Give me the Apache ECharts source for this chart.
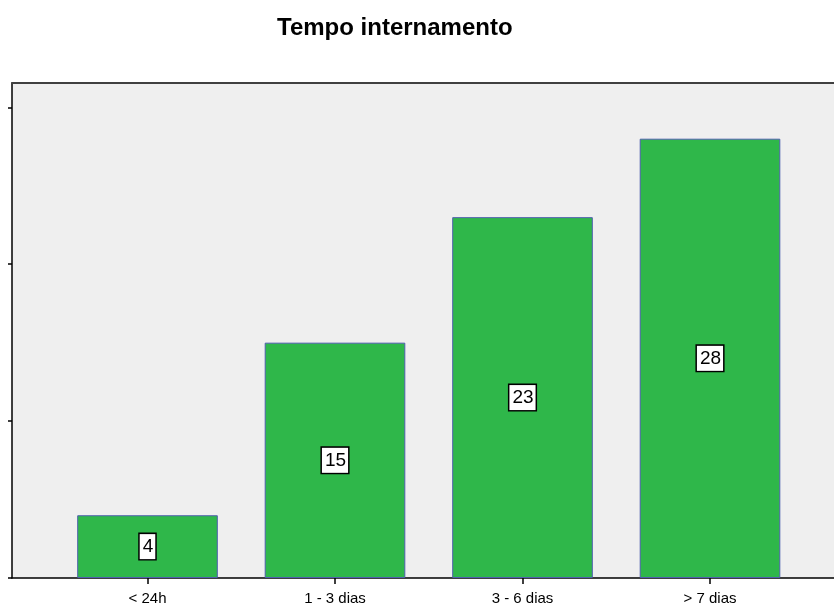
<!DOCTYPE html>
<html>
<head>
<meta charset="utf-8">
<script src="https://cdn.jsdelivr.net/npm/echarts@6/dist/echarts.min.js"></script>
<style>
  html, body { margin: 0; padding: 0; background: #ffffff; }
  #chart { width: 834px; height: 606px; }
</style>
</head>
<body>
<div id="chart"></div>
<script>
// Length-of-stay groups and patient counts
const categories = ['< 24h', '1 - 3 dias', '3 - 6 dias', '> 7 dias'];
const counts = [4, 15, 23, 28];
const yTicks = [0, 10, 20, 30];
const yMax = 31.55;

const font = '"Liberation Sans", Arial, sans-serif';
const chart = echarts.init(document.getElementById('chart'), null, { renderer: 'canvas' });

chart.setOption({
  animation: false,
  backgroundColor: '#ffffff',
  title: {
    text: 'Tempo internamento',
    left: 277,
    top: 16,
    padding: 0,
    textStyle: { fontFamily: font, fontSize: 24, fontWeight: 'bold', color: '#000000' }
  },
  grid: [
    // frame: shaded plot background with axis lines
    { left: 12, right: 0, top: 83, bottom: 28, show: true, backgroundColor: '#efefef', borderWidth: 0 },
    // bars
    { left: 53.75, right: 30.25, top: 83, bottom: 28 }
  ],
  xAxis: [
    {
      gridIndex: 0, type: 'value', min: 0, max: 1, position: 'bottom',
      axisLine: { show: true, lineStyle: { color: '#000000', width: 1.5 } },
      axisTick: { show: false }, axisLabel: { show: false }, splitLine: { show: false }
    },
    {
      gridIndex: 0, type: 'value', min: 0, max: 1, position: 'top',
      axisLine: { show: true, lineStyle: { color: '#404040', width: 2 } },
      axisTick: { show: false }, axisLabel: { show: false }, splitLine: { show: false }
    },
    {
      gridIndex: 1, type: 'category', data: categories, position: 'bottom',
      axisLine: { show: false },
      axisTick: { show: true, alignWithLabel: true, length: 6, lineStyle: { color: '#000000', width: 1.5 } },
      axisLabel: { color: '#000000', fontFamily: font, fontSize: 15, margin: 13 },
      splitLine: { show: false }
    }
  ],
  yAxis: [
    {
      gridIndex: 0, type: 'value', min: 0, max: yMax, position: 'left',
      axisLine: { show: true, lineStyle: { color: '#000000', width: 1.5 } },
      axisTick: { show: true, length: 4, customValues: yTicks, lineStyle: { color: '#000000', width: 1.5 } },
      axisLabel: { show: false },
      splitLine: { show: false }
    },
    {
      gridIndex: 1, type: 'value', min: 0, max: yMax, show: false
    }
  ],
  series: [
    {
      type: 'bar',
      xAxisIndex: 2,
      yAxisIndex: 1,
      data: counts,
      barCategoryGap: '25%',
      itemStyle: { color: '#2fb74a', borderColor: '#4f5fae', borderWidth: 1 },
      label: {
        show: true,
        position: 'inside',
        color: '#000000',
        fontFamily: font,
        fontSize: 19,
        backgroundColor: '#ffffff',
        borderColor: '#000000',
        borderWidth: 1.5,
        padding: [4, 2, 2, 3]
      }
    }
  ]
});
</script>
</body>
</html>
